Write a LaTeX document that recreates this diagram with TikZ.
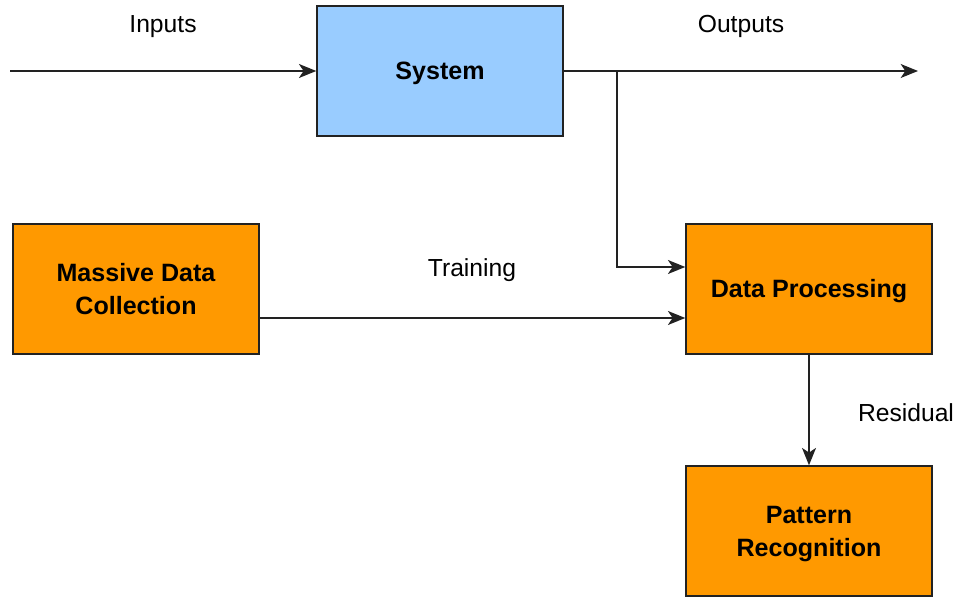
\documentclass[tikz,border=0pt]{standalone}
\usepackage{fontspec}
\setmainfont{Liberation Sans}
\usetikzlibrary{arrows.meta}
\definecolor{sysblue}{HTML}{99CCFF}
\definecolor{boxorange}{HTML}{FF9900}
\definecolor{edge}{HTML}{222222}
\tikzset{
  blk/.style={draw=edge, line width=1.1pt, minimum width=184.5pt, minimum height=97.5pt,
    inner sep=0pt},
  blktxt/.style={inner sep=0pt, anchor=base, align=center,
    font=\fontsize{18.8}{24.75}\selectfont\bfseries},
  lbl/.style={inner sep=0pt, anchor=base, font=\fontsize{18.5}{22}\selectfont},
  arr/.style={draw=edge, line width=1.1pt, -{Stealth[length=13pt, width=10.5pt, inset=3.5pt]}}
}
\begin{document}
\begin{tikzpicture}[x=0.75pt, y=-0.75pt]
\useasboundingbox (0,0) rectangle (958,598);
\node[blk, fill=sysblue] (sys) at (440,71) {};
\node[blk, fill=boxorange] (mdc) at (136,289) {};
\node[blk, fill=boxorange] (dp) at (809,289) {};
\node[blk, fill=boxorange] (pr) at (809,531) {};
\node[blktxt] (sysT) at (440,80) {System};
\node[blktxt] (mdcT) at (136,315) {Massive Data\\Collection};
\node[blktxt] (dpT) at (809,298) {Data Processing};
\node[blktxt] (prT) at (809,557) {Pattern\\Recognition};
\node[lbl] (in) at (163,33) {Inputs};
\node[lbl] (out) at (741,33) {Outputs};
\node[lbl] (tr) at (472,277) {Training};
\node[lbl] (res) at (906,422) {Residual};
\coordinate (src) at (10,71);
\coordinate (dst) at (918,71);
\coordinate (br) at (617,71);
\draw[arr] (src) -- (sys.west);
\draw[arr] (sys.east) -- (dst);
\draw[arr] (br) |- (dp.west |- 0,267);
\draw[arr] (mdc.east |- 0,318) -- (dp.west |- 0,318);
\draw[arr] (dp.south) -- (pr.north);
\end{tikzpicture}
\end{document}
